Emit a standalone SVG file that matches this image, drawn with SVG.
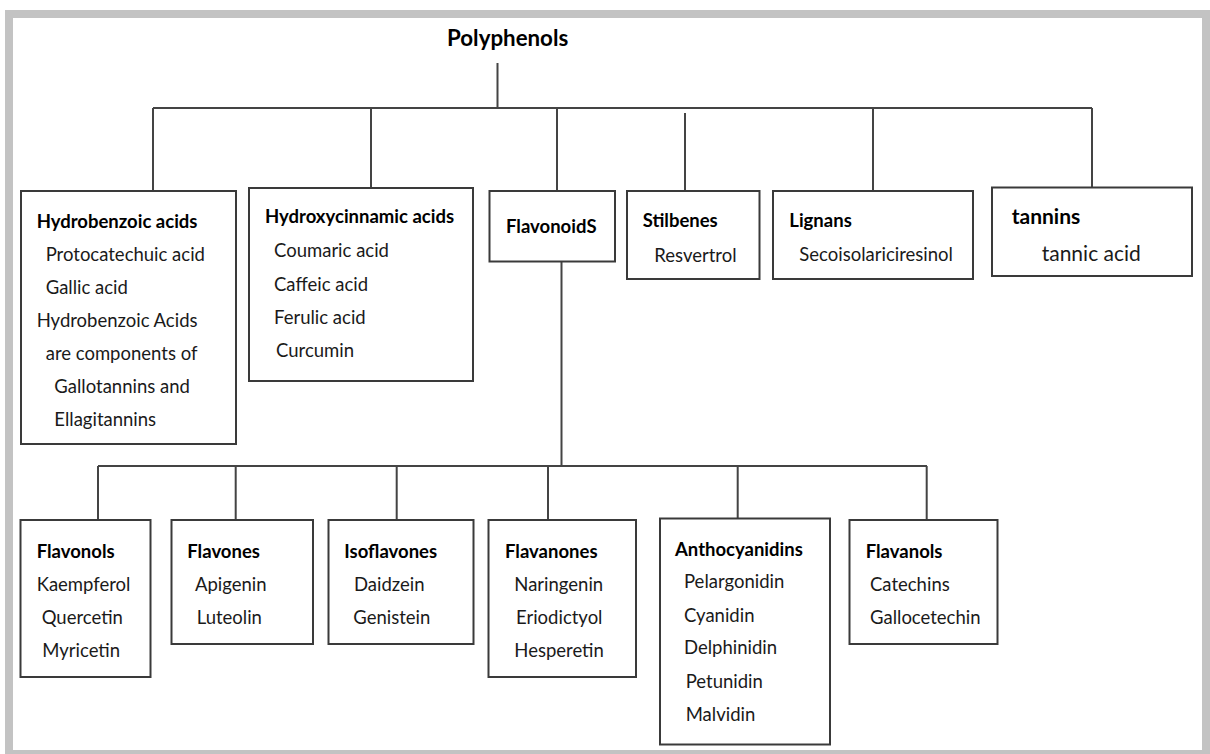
<svg xmlns="http://www.w3.org/2000/svg" width="1210" height="754" viewBox="0 0 1210 754">
<style>
.frame{fill:#ffffff;stroke:#c3c3c3;stroke-width:8}
.box{fill:#ffffff;stroke:#3a3a3a;stroke-width:2}
.ln{stroke:#444444;stroke-width:2;fill:none}
text{font-family:Lato,"Open Sans","Liberation Sans",sans-serif;font-size:18.5px;fill:#1a1a1a}
.b{font-weight:bold;fill:#000000}
.big{font-size:21px}
.title{font-size:22.3px}
</style>
<rect class="frame" x="9" y="14" width="1197" height="740"/>
<g id="connectors">
<path class="ln" d="M497.5 63V108M153 108H1092M153 108V191M371 108V188M557 108V191M685 113V191M873 108V191M1092 108V187.5"/>
<path class="ln" d="M561.5 261.5V466M98 466H927M98 466V520M235.7 466V520M396.7 466V520M548 466V520M737.7 466V518.5M926.7 466V520"/>
</g>
<g id="polyphenols"><text class="b title" x="447" y="46">Polyphenols</text></g>
<g id="hydrobenzoic">
<rect class="box" x="21" y="191" width="215" height="253"/>
<text class="b" x="36.7" y="227.5">Hydrobenzoic acids</text>
<text x="45.7" y="260.5">Protocatechuic acid</text>
<text x="45.7" y="293.5">Gallic acid</text>
<text x="36.7" y="326.5">Hydrobenzoic Acids</text>
<text x="45.7" y="359.5">are components of</text>
<text x="54.3" y="392.5">Gallotannins and</text>
<text x="54.3" y="425.5">Ellagitannins</text>
</g>
<g id="hydroxycinnamic">
<rect class="box" x="249" y="188" width="224" height="193"/>
<text class="b" x="265" y="223">Hydroxycinnamic acids</text>
<text x="274" y="257">Coumaric acid</text>
<text x="274" y="290.5">Caffeic acid</text>
<text x="274" y="324">Ferulic acid</text>
<text x="276" y="357">Curcumin</text>
</g>
<g id="flavonoids">
<rect class="box" x="489.5" y="191" width="125.5" height="70.5"/>
<text class="b" x="506" y="232.7">FlavonoidS</text>
</g>
<g id="stilbenes">
<rect class="box" x="627" y="191" width="132.5" height="88"/>
<text class="b" x="642.7" y="226.7">Stilbenes</text>
<text x="654.3" y="261.7">Resvertrol</text>
</g>
<g id="lignans">
<rect class="box" x="773" y="191" width="200" height="88"/>
<text class="b" x="789.3" y="227.3">Lignans</text>
<text x="799.3" y="261">Secoisolariciresinol</text>
</g>
<g id="tannins">
<rect class="box" x="992" y="187.5" width="200" height="88.5"/>
<text class="b big" x="1011.7" y="224.3">tannins</text>
<text class="big" x="1041.7" y="261">tannic acid</text>
</g>
<g id="flavonols">
<rect class="box" x="20.5" y="520" width="130" height="157"/>
<text class="b" x="36.7" y="557.7">Flavonols</text>
<text x="36.7" y="591">Kaempferol</text>
<text x="41.7" y="624">Quercetin</text>
<text x="42.3" y="656.7">Myricetin</text>
</g>
<g id="flavones">
<rect class="box" x="171.5" y="520" width="141.5" height="124"/>
<text class="b" x="187.3" y="557.7">Flavones</text>
<text x="195" y="591">Apigenin</text>
<text x="196.7" y="624">Luteolin</text>
</g>
<g id="isoflavones">
<rect class="box" x="328.5" y="520" width="145" height="124"/>
<text class="b" x="344.3" y="557.7">Isoflavones</text>
<text x="354" y="591">Daidzein</text>
<text x="353.3" y="624">Genistein</text>
</g>
<g id="flavanones">
<rect class="box" x="488.5" y="520" width="147.5" height="157"/>
<text class="b" x="505" y="557.7">Flavanones</text>
<text x="514.3" y="591">Naringenin</text>
<text x="516" y="624">Eriodictyol</text>
<text x="514.3" y="656.7">Hesperetin</text>
</g>
<g id="anthocyanidins">
<rect class="box" x="660" y="518.5" width="170" height="226"/>
<text class="b" x="675" y="555.7">Anthocyanidins</text>
<text x="684" y="588.3">Pelargonidin</text>
<text x="684" y="621.7">Cyanidin</text>
<text x="684" y="654.3">Delphinidin</text>
<text x="685.7" y="687.7">Petunidin</text>
<text x="685.7" y="721">Malvidin</text>
</g>
<g id="flavanols">
<rect class="box" x="849.5" y="520" width="148" height="124"/>
<text class="b" x="865.7" y="558">Flavanols</text>
<text x="870" y="591">Catechins</text>
<text x="870" y="624">Gallocetechin</text>
</g>
</svg>
